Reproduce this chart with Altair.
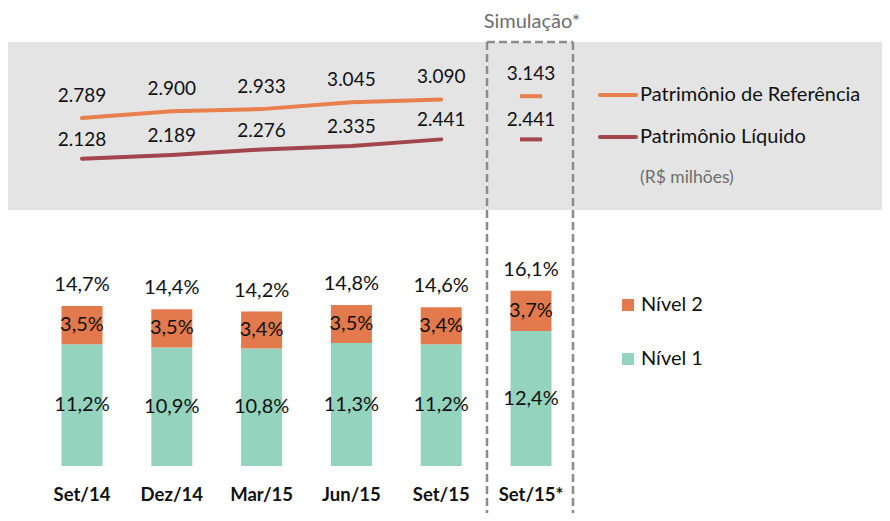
import altair as alt
import pandas as pd

categories = ["Set/14", "Dez/14", "Mar/15", "Jun/15", "Set/15", "Set/15*"]
nivel1 = [11.2, 10.9, 10.8, 11.3, 11.2, 12.4]
nivel2 = [3.5, 3.5, 3.4, 3.5, 3.4, 3.7]
total = [14.7, 14.4, 14.2, 14.8, 14.6, 16.1]
pat_ref = [2789, 2900, 2933, 3045, 3090, 3143]
pat_liq = [2128, 2189, 2276, 2335, 2441, 2441]
simulated = [False, False, False, False, False, True]

ORANGE_LINE = "#E97F4C"
RED_LINE = "#A3454C"
ORANGE_BAR = "#E27A4E"
GREEN_BAR = "#94D3BE"
GRAY_BG = "#E4E4E4"
TXT = "#111111"
FONT = "Lato"

W, H = 874, 505


def pct(v):
    return f"{v:.1f}%".replace(".", ",")


def thou(v):
    return f"{v:,}".replace(",", ".")


xenc = alt.X("cat:N", sort=categories,
             scale=alt.Scale(type="point", range=[74, 523], padding=0), axis=None)

# bar data
rows = []
for c, a, b, t in zip(categories, nivel1, nivel2, total):
    rows.append({"cat": c, "level": "Nível 1", "y0": 0, "y1": a, "mid": a / 2, "lab": pct(a)})
    rows.append({"cat": c, "level": "Nível 2", "y0": a, "y1": t, "mid": a + b / 2, "lab": pct(b)})
bars_df = pd.DataFrame(rows)
tot_df = pd.DataFrame({"cat": categories, "total": total, "lab": [pct(t) for t in total]})

ybar = alt.Scale(domain=[0, 20], range=[458, 240.4])

bars = alt.Chart(bars_df).mark_bar(width=41).encode(
    x=xenc,
    y=alt.Y("y0:Q", scale=ybar, axis=None),
    y2="y1:Q",
    color=alt.Color("level:N", scale=alt.Scale(domain=["Nível 1", "Nível 2"],
                                                range=[GREEN_BAR, ORANGE_BAR]), legend=None),
)
bar_labels = alt.Chart(bars_df).mark_text(font=FONT, fontSize=20, color=TXT, baseline="middle").encode(
    x=xenc, y=alt.Y("mid:Q", scale=ybar, axis=None), text="lab:N")
tot_labels = alt.Chart(tot_df).mark_text(font=FONT, fontSize=20, color=TXT, baseline="middle", dy=-21).encode(
    x=xenc, y=alt.Y("total:Q", scale=ybar, axis=None), text="lab:N")

# line data
lines_df = pd.DataFrame({
    "cat": categories * 2,
    "serie": ["Patrimônio de Referência"] * 6 + ["Patrimônio Líquido"] * 6,
    "v": pat_ref + pat_liq,
    "sim": simulated * 2,
    "lab": [thou(v) for v in pat_ref + pat_liq],
})
yline = alt.Scale(domain=[2000, 3200], range=[158.5, 84.7])
cline = alt.Scale(domain=["Patrimônio de Referência", "Patrimônio Líquido"], range=[ORANGE_LINE, RED_LINE])

hist = alt.datum.sim == False
lines = alt.Chart(lines_df).transform_filter(hist).mark_line(strokeWidth=4, strokeCap="round").encode(
    x=xenc, y=alt.Y("v:Q", scale=yline, axis=None),
    color=alt.Color("serie:N", scale=cline, legend=None), detail="serie:N")
sim_ticks = alt.Chart(lines_df).transform_filter(alt.datum.sim == True).mark_tick(
    size=22, thickness=4, opacity=1).encode(
    x=xenc, y=alt.Y("v:Q", scale=yline, axis=None),
    color=alt.Color("serie:N", scale=cline, legend=None))
ref_labels = alt.Chart(lines_df).transform_filter(
    alt.datum.serie == "Patrimônio de Referência").mark_text(
    font=FONT, fontSize=19, color=TXT, baseline="middle", dy=-22).encode(
    x=xenc, y=alt.Y("v:Q", scale=yline, axis=None), text="lab:N")
liq_labels = alt.Chart(lines_df).transform_filter(
    alt.datum.serie == "Patrimônio Líquido").mark_text(
    font=FONT, fontSize=19, color=TXT, baseline="middle", dy=-19).encode(
    x=xenc, y=alt.Y("v:Q", scale=yline, axis=None), text="lab:N")

# x category labels
cat_df = pd.DataFrame({"cat": categories})
cat_labels = alt.Chart(cat_df).mark_text(font=FONT, fontSize=18.5, fontWeight="bold", color=TXT,
                                         baseline="middle").encode(
    x=xenc, y=alt.value(487), text="cat:N")

one = pd.DataFrame({"a": [0]})
bg = alt.Chart(one).mark_rect(color=GRAY_BG).encode(
    x=alt.value(0), x2=alt.value(W), y=alt.value(34), y2=alt.value(202))

dash = dict(color="#8C8C8C", strokeWidth=2.5, strokeDash=[8, 4])
box_l = alt.Chart(one).mark_rule(**dash).encode(x=alt.value(479), y=alt.value(34), y2=alt.value(H))
box_r = alt.Chart(one).mark_rule(**dash).encode(x=alt.value(565), y=alt.value(34), y2=alt.value(H))
box_t = alt.Chart(one).mark_rule(**dash).encode(x=alt.value(479), x2=alt.value(565), y=alt.value(34))
sim_title = alt.Chart(pd.DataFrame({"t": ["Simulação*"]})).mark_text(
    font=FONT, fontSize=20, color="#6E6E6E", baseline="middle").encode(
    x=alt.value(524), y=alt.value(14), text="t:N")

# legends
leg_line_df = pd.DataFrame({"serie": ["Patrimônio de Referência", "Patrimônio Líquido"]})
leg_y = alt.Y("serie:N", scale=alt.Scale(type="point", domain=["Patrimônio de Referência", "Patrimônio Líquido"],
                                            range=[87, 129], padding=0), axis=None)
leg_lines = alt.Chart(leg_line_df).mark_rule(strokeWidth=4, strokeCap="round").encode(
    x=alt.value(592), x2=alt.value(628), y=leg_y,
    color=alt.Color("serie:N", scale=cline, legend=None))
leg_line_txt = alt.Chart(leg_line_df).mark_text(font=FONT, fontSize=20, color=TXT, align="left",
                                                baseline="middle").encode(
    x=alt.value(632), y=leg_y, text="serie:N")
unit_txt = alt.Chart(pd.DataFrame({"t": ["(R$ milhões)"]})).mark_text(
    font=FONT, fontSize=17.5, color="#6E6E6E", align="left", baseline="middle").encode(
    x=alt.value(632), y=alt.value(170), text="t:N")

leg_bar_df = pd.DataFrame({"level": ["Nível 2", "Nível 1"]})
leg_by = alt.Y("level:N", scale=alt.Scale(type="point", domain=["Nível 2", "Nível 1"],
                                          range=[297, 351], padding=0), axis=None)
leg_sq = alt.Chart(leg_bar_df).mark_square(size=144, opacity=1).encode(
    x=alt.value(620), y=leg_by,
    color=alt.Color("level:N", scale=alt.Scale(domain=["Nível 1", "Nível 2"],
                                                range=[GREEN_BAR, ORANGE_BAR]), legend=None))
leg_sq_txt = alt.Chart(leg_bar_df).mark_text(font=FONT, fontSize=20, color=TXT, align="left",
                                             baseline="middle").encode(
    x=alt.value(633), y=leg_by, text="level:N")

chart = alt.layer(
    bg, box_l, box_r, box_t, sim_title,
    bars, bar_labels, tot_labels,
    lines, sim_ticks, ref_labels, liq_labels,
    cat_labels,
    leg_lines, leg_line_txt, unit_txt, leg_sq, leg_sq_txt,
).resolve_scale(y="independent", color="independent").properties(
    width=W, height=H, padding=0,
    autosize=alt.AutoSizeParams(type="none"),
    view=alt.ViewBackground(stroke="transparent", strokeWidth=0),
).configure_view(strokeWidth=0, stroke="transparent", strokeOpacity=0)

chart.save("out.html", embed_options={"renderer": "svg", "actions": False})
